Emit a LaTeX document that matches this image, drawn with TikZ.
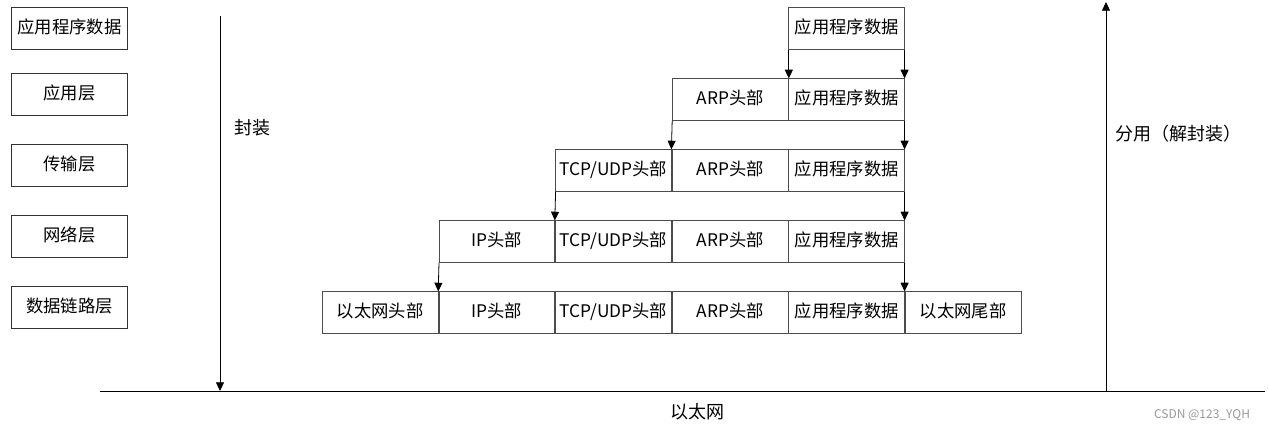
\documentclass[tikz,border=0pt]{standalone}
\usepackage{fontspec}
\setmainfont{Noto Sans CJK SC}
\usetikzlibrary{arrows.meta}
\usetikzlibrary{matrix}
\usetikzlibrary{positioning}

\tikzset{
  cell/.style={draw=black!70, line width=0.6pt, rectangle, anchor=center,
    text width=86.85pt, align=center, text height=10pt, text depth=3pt,
    minimum height=31.65pt, inner sep=0pt, outer sep=0pt,
    font=\fontsize{13}{15}\selectfont},
  layer/.style={cell, draw=black!80},
  caption/.style={font=\fontsize{13.5}{15}\selectfont},
  tip/.style={-{Triangle[width=6pt,length=6.5pt]}, line width=0.6pt}
}

\begin{document}
\begin{tikzpicture}[x=0.75pt, y=-0.75pt]

  \useasboundingbox (0,0) rectangle (1269,432);

  % layers on the left
  \node [layer] (lApp) at (69.5,28.5) {应用程序数据};
  \node [layer, below=17.85pt of lApp] (lAppLayer) {应用层};
  \node [layer, below=21.6pt of lAppLayer] (lTrans) {传输层};
  \node [layer, below=21.6pt of lTrans] (lNet) {网络层};
  \node [layer, below=21.6pt of lNet] (lLink) {数据链路层};

  % packets
  \matrix (pkt) [matrix of nodes, nodes={cell}, column sep=0pt, row sep=21pt,
                 inner sep=0pt, outer sep=0pt, anchor=north west] at (322,7) {
    & & & & |(d0)| 应用程序数据 & \\
    & & & |(h1)| ARP头部 & |(d1)| 应用程序数据 & \\
    & & |(h2)| TCP/UDP头部 & ARP头部 & |(d2)| 应用程序数据 & \\
    & |(h3)| IP头部 & TCP/UDP头部 & ARP头部 & |(d3)| 应用程序数据 & \\
    |(h4)| 以太网头部 & IP头部 & TCP/UDP头部 & ARP头部 & |(d4)| 应用程序数据 & |(t4)| 以太网尾部 \\
  };

  \path [every edge/.style={draw,tip}]
    (d0.south west) edge (d1.north west)
    (d0.south east) edge (d1.north east)
    (h1.south west) edge (h2.north east)
    (d1.south east) edge (d2.north east)
    (h2.south west) edge (h3.north east)
    (d2.south east) edge (d3.north east)
    (h3.south west) edge (h4.north east)
    (d3.south east) edge (d4.north east);

  % ground line and directions
  \coordinate (gndL) at (100,391);
  \coordinate (gndR) at (1265,391);
  \coordinate (encTop) at (220,16);
  \coordinate (decTop) at (1106,2);
  \draw [line width=0.6pt] (gndL) -- (gndR);
  \draw [tip] (encTop) -- (encTop |- gndL);
  \draw [tip] (decTop |- gndL) -- (decTop);

  \node [caption] (enc) at (252,128) {封装};
  \node [caption] (dec) at (1178,134) {分用（解封装）};
  \node [caption] (eth) at (697,412) {以太网};
  \node [font=\fontsize{9}{10}\selectfont, text=black!40] (mark) at (1202,415) {CSDN @123\_YQH};

\end{tikzpicture}
\end{document}
